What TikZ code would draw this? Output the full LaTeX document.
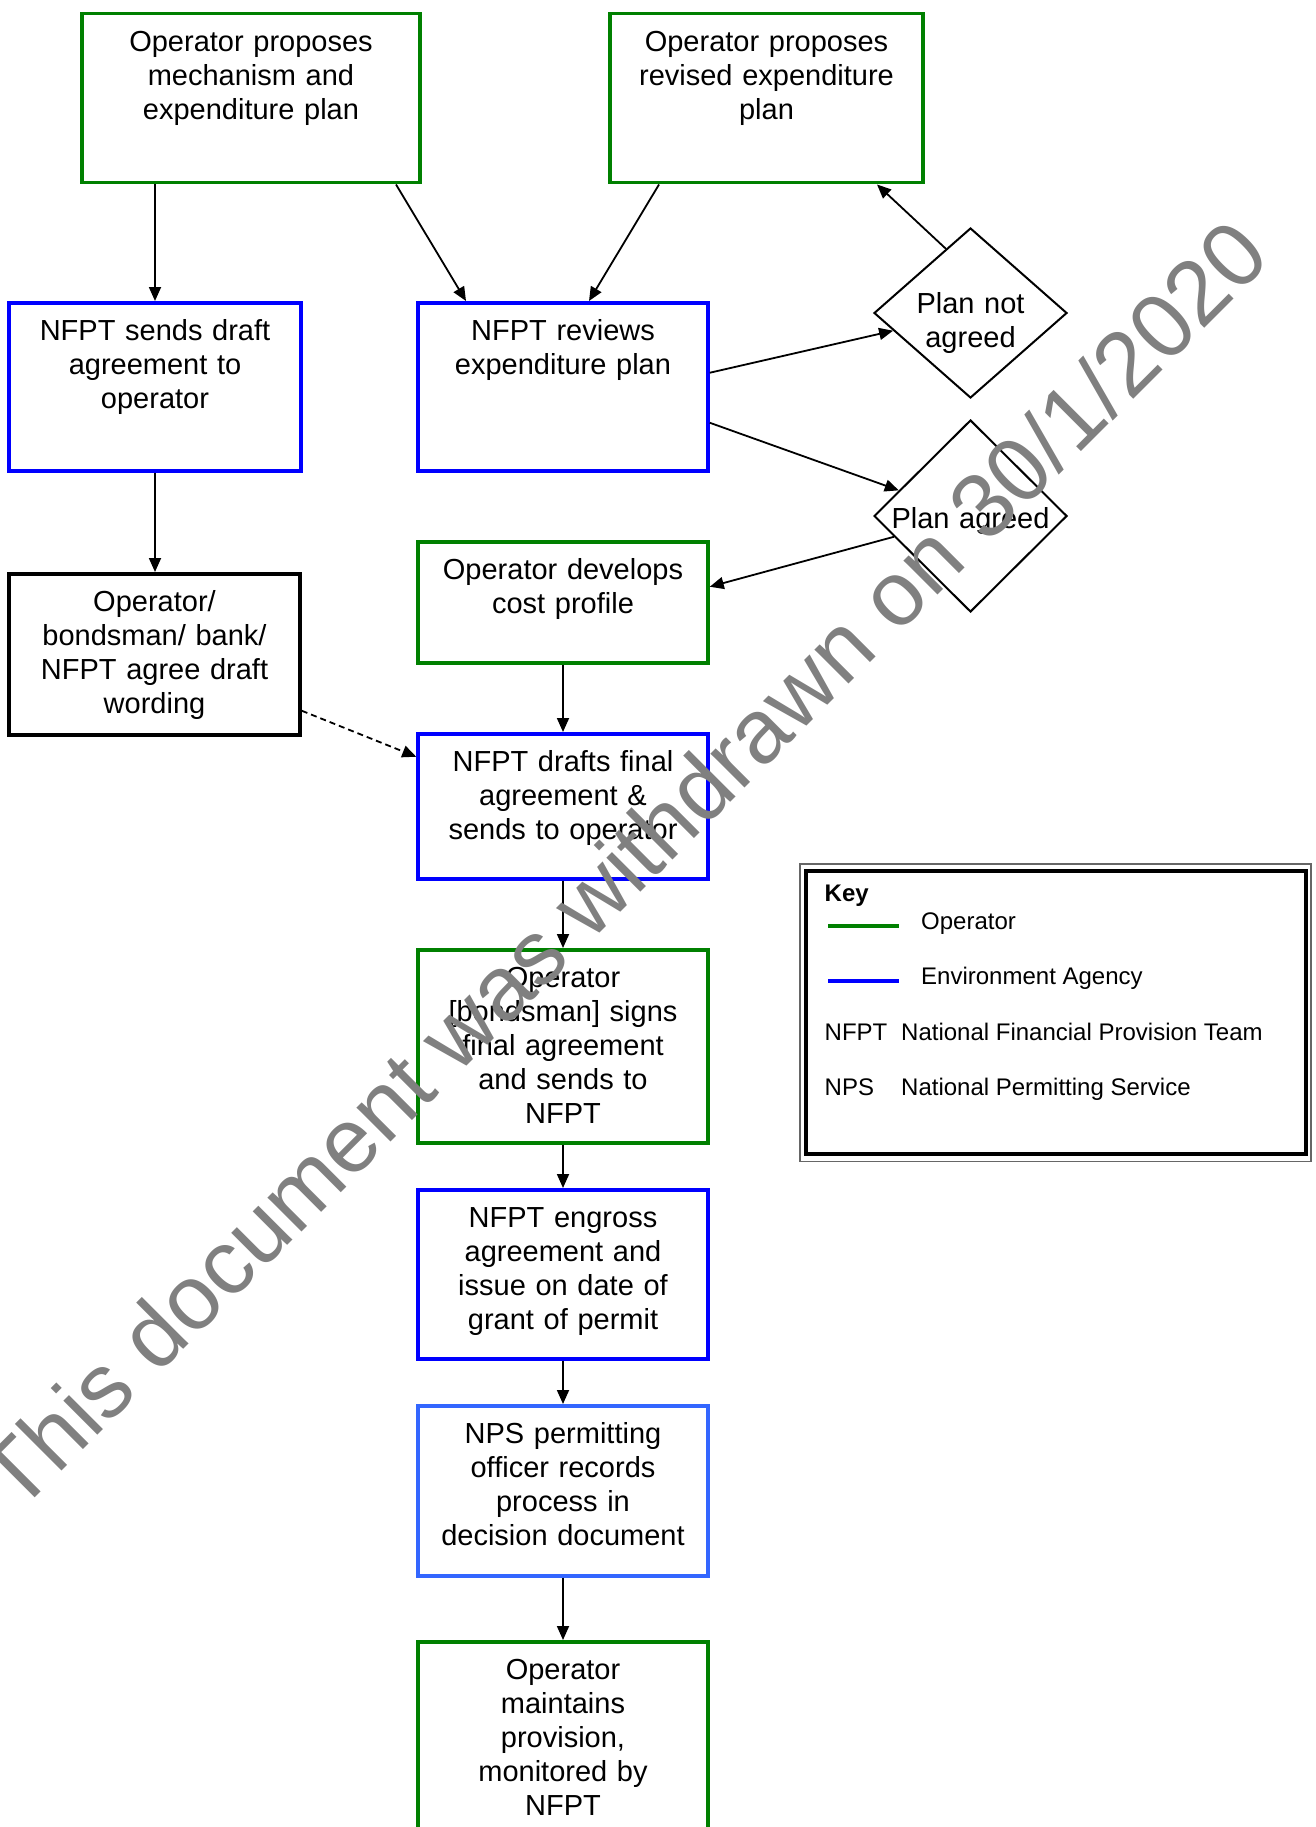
\documentclass[tikz,border=0pt]{standalone}
\usepackage{fontspec}
\setmainfont{Liberation Sans}
\usetikzlibrary{arrows.meta,shapes.geometric}

\definecolor{opgreen}{RGB}{0,128,0}
\definecolor{eablue}{RGB}{0,0,255}
\definecolor{npsblue}{RGB}{51,102,255}
\definecolor{stampgrey}{RGB}{128,128,128}

\newcommand{\boxfont}{\fontsize{29pt}{34pt}\selectfont}
\newcommand{\keyfont}{\fontsize{24pt}{28pt}\selectfont}

\tikzset{
    stepbox/.style={draw=#1, line width=3.5pt, inner sep=0pt, anchor=north,
        align=center, font=\boxfont, text height=38pt},
    decision/.style={diamond, draw, line width=2pt, inner sep=0pt, minimum width=193pt},
    plaintext/.style={inner sep=0pt, align=center, text width=180pt, font=\boxfont},
    keytext/.style={anchor=base west, inner sep=0pt, font=\keyfont},
    arr/.style={-{Triangle[length=14pt,width=12pt]}, line width=1.8pt},
}

\begin{document}
\begin{tikzpicture}[x=1pt, y=-1pt]
            \useasboundingbox (0,0) rectangle (1316,1827);
            \clip (0,0) rectangle (1316,1827);

            % top row
            \node[stepbox=opgreen, text width=338pt, text depth=131pt] (propose) at (251,12) {Operator proposes\\mechanism and\\expenditure plan};
            \node[stepbox=opgreen, text width=313pt, text depth=131pt] (revised) at (766.5,12) {Operator proposes\\revised expenditure\\plan};

            % second row
            \node[stepbox=eablue, text width=292pt, text depth=130pt] (sendsdraft) at (155,301) {NFPT sends draft\\agreement to\\operator};
            \node[stepbox=eablue, text width=290pt, text depth=130pt] (review) at (563,301) {NFPT reviews\\expenditure plan};

            % decisions
            \node[decision, minimum height=170pt] (notagreed) at (970.5,313) {};
            \node[plaintext, anchor=base] (notagreedtxt) at (notagreed.center) {Plan not\\agreed};
            \node[decision, minimum height=192pt] (agreed) at (970.5,516) {};
            \node[plaintext, anchor=base] (agreedtxt) at ([yshift=-12pt]agreed.center) {Plan agreed};

            % left column
            \node[stepbox=black, text width=291pt, text depth=123pt] (wording) at (154.5,572) {Operator/\\bondsman/ bank/\\NFPT agree draft\\wording};

            % main column
            \node[stepbox=opgreen, text width=290pt, text depth=83pt] (costprofile) at (563,540) {Operator develops\\cost profile};
            \node[stepbox=eablue, text width=290pt, text depth=107pt] (finaldraft) at (563,732) {NFPT drafts final\\agreement \&\\sends to operator};
            \node[stepbox=opgreen, text width=290pt, text depth=155pt] (signs) at (563,948) {Operator\\{[bondsman]} signs\\final agreement\\and sends to\\NFPT};
            \node[stepbox=eablue, text width=290pt, text depth=131pt] (engross) at (563,1188) {NFPT engross\\agreement and\\issue on date of\\grant of permit};
            \node[stepbox=npsblue, text width=290pt, text depth=132pt] (records) at (563,1404) {NPS permitting\\officer records\\process in\\decision document};
            \node[stepbox=opgreen, text width=290pt, text depth=262pt] (maintains) at (563,1640) {Operator\\maintains\\provision,\\monitored by\\NFPT};

            % connectors
            \draw[arr] (sendsdraft.north |- propose.south) -- (sendsdraft.north);
            \draw[arr] ([xshift=145pt]propose.south) -- ([xshift=-97pt]review.north);
            \draw[arr] ([xshift=-107.5pt]revised.south) -- ([xshift=26pt]review.north);
            \draw[arr] ([yshift=14pt]review.east) -- (notagreed);
            \draw[arr] (notagreed.111) -- ([xshift=110.5pt]revised.south);
            \draw[arr] ([yshift=-36pt]review.east) -- (agreed);
            \draw[arr] (agreed) -- ([yshift=15.5pt]costprofile.east);
            \draw[arr] (sendsdraft.south) -- (sendsdraft.south |- wording.north);
            \draw[arr, dash pattern=on 6pt off 4pt] ([yshift=-56.5pt]wording.east) -- ([yshift=49.5pt]finaldraft.west);
            \foreach \from/\to in {costprofile/finaldraft, finaldraft/signs, signs/engross, engross/records, records/maintains}
                \draw[arr] (\from) -- (\to);

            % key
            \node[draw, line width=4pt, inner sep=0pt, anchor=north west, minimum width=499.5pt, minimum height=283pt] (key) at (804,868.5) {};
            \draw[black!60, line width=1.2pt] ([xshift=-4pt,yshift=4.5pt]key.north west) rectangle ([xshift=3.5pt,yshift=-6pt]key.south east);
            \node[keytext, font=\keyfont\bfseries] (keytitle) at (824.5,901.7) {Key};
            \draw[opgreen, line width=4pt] (828,926) -- (899,926);
            \node[keytext] (keyop) at (921,929.5) {Operator};
            \draw[eablue, line width=4pt] (828,981) -- (899,981);
            \node[keytext] (keyea) at (921,984.5) {Environment Agency};
            \node[keytext] (keynfpt) at (824.5,1040) {NFPT};
            \node[keytext] (keynfptname) at (901,1040) {National Financial Provision Team};
            \node[keytext] (keynps) at (824.5,1095) {NPS};
            \node[keytext] (keynpsname) at (901,1095) {National Permitting Service};

            % withdrawal stamp
            \node[rotate=45, anchor=base west, inner sep=0pt, text=stampgrey, font=\fontsize{91pt}{100pt}\selectfont] (stamp) at (18,1515) {This document was withdrawn on 30/1/2020};
\end{tikzpicture}
\end{document}
